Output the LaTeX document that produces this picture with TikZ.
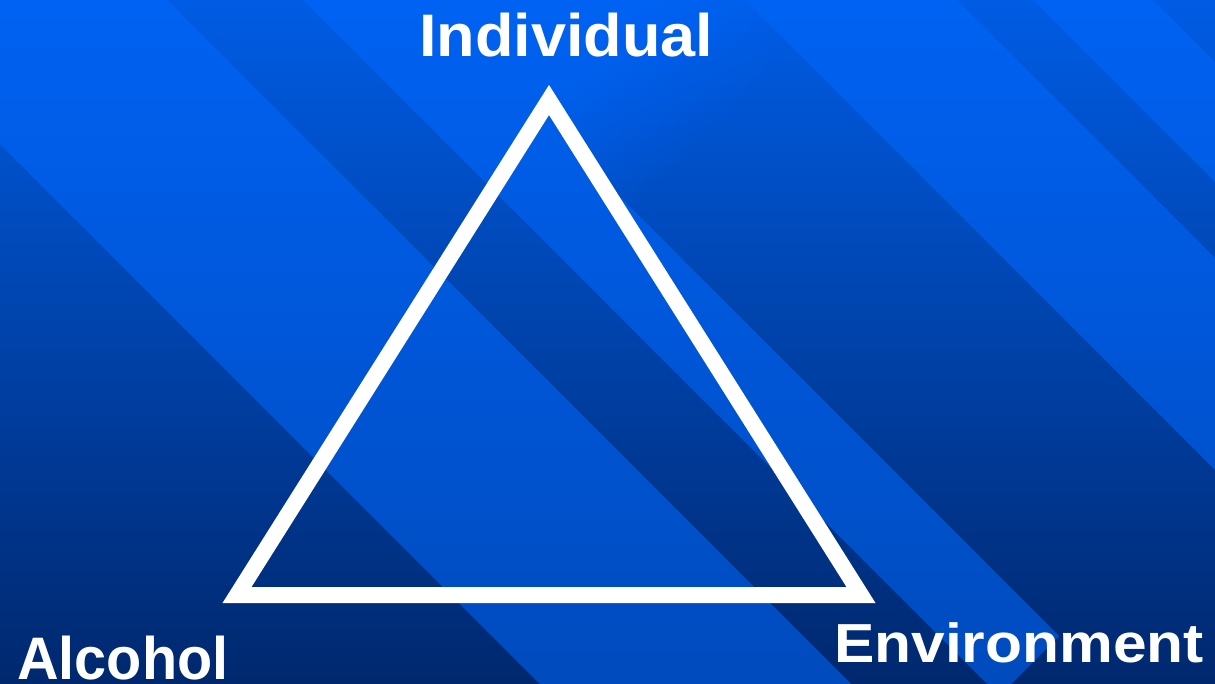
\documentclass[tikz,border=0pt]{standalone}
\usepackage{fontspec}
\usepackage{graphicx}
\setmainfont{Liberation Sans}
\usetikzlibrary{fadings}
\definecolor{bgtop}{RGB}{0,92,228}
\definecolor{bgmid}{RGB}{0,74,196}
\definecolor{bgbot}{RGB}{0,40,110}
\definecolor{stripeblue}{RGB}{0,104,255}
\tikzfading[name=stripefade,left color=transparent!0,right color=transparent!100]
\newcommand{\band}[5][]{\fill[stripe,#1] ({(#2+#4)/2},{(#4-#2)/2}) -- ({(#3+#4)/2},{(#4-#3)/2}) -- ({(#3+#5)/2},{(#5-#3)/2}) -- ({(#2+#5)/2},{(#5-#2)/2}) -- cycle;}
\newcommand{\widen}[2]{\scalebox{#1}[1]{#2}}

\begin{document}
\begin{tikzpicture}[x=1pt,y=-1pt,
  stripe/.style={fill=stripeblue,fill opacity=0.55},
  edge/.style={draw=white,line width=16pt,line join=miter},
  cornertext/.style={text=white,inner sep=0pt,anchor=base west,font=\bfseries\fontsize{60}{60}\selectfont}]
\useasboundingbox (0,0) rectangle (1215,683);
\shade[top color=bgtop,middle color=bgmid,bottom color=bgbot] (0,0) rectangle (1215,683);
\begin{scope}
\clip (0,0) rectangle (1215,683);
\band{-144}{167}{-2000}{3000}
\band{303}{423}{-2000}{1695}
\band{745}{957}{-2000}{3000}
\band{1033}{1153}{-2000}{3000}
\begin{scope}[transform canvas={rotate=-45}]
\fill[stripe] ({200/sqrt(2)},{-745/sqrt(2)}) rectangle ({650/sqrt(2)},{-423/sqrt(2)});
\fill[stripe,path fading=stripefade] ({650/sqrt(2)},{-745/sqrt(2)}) rectangle ({850/sqrt(2)},{-423/sqrt(2)});
\end{scope}
\end{scope}
\coordinate (apex) at (549,100);
\coordinate (bl) at (237,595);
\coordinate (br) at (861,595);
\draw[edge] (apex) -- (bl) -- (br) -- cycle;
\node[cornertext] (individual) at (419,56) {\widen{1.05}{Individual}};
\node[cornertext] (alcohol) at (17,679) {\widen{0.96}{Alcohol}};
\node[cornertext,font=\bfseries\fontsize{55}{55}\selectfont] (environment) at (834,662) {\widen{1.10}{Environment}};
\end{tikzpicture}
\end{document}
